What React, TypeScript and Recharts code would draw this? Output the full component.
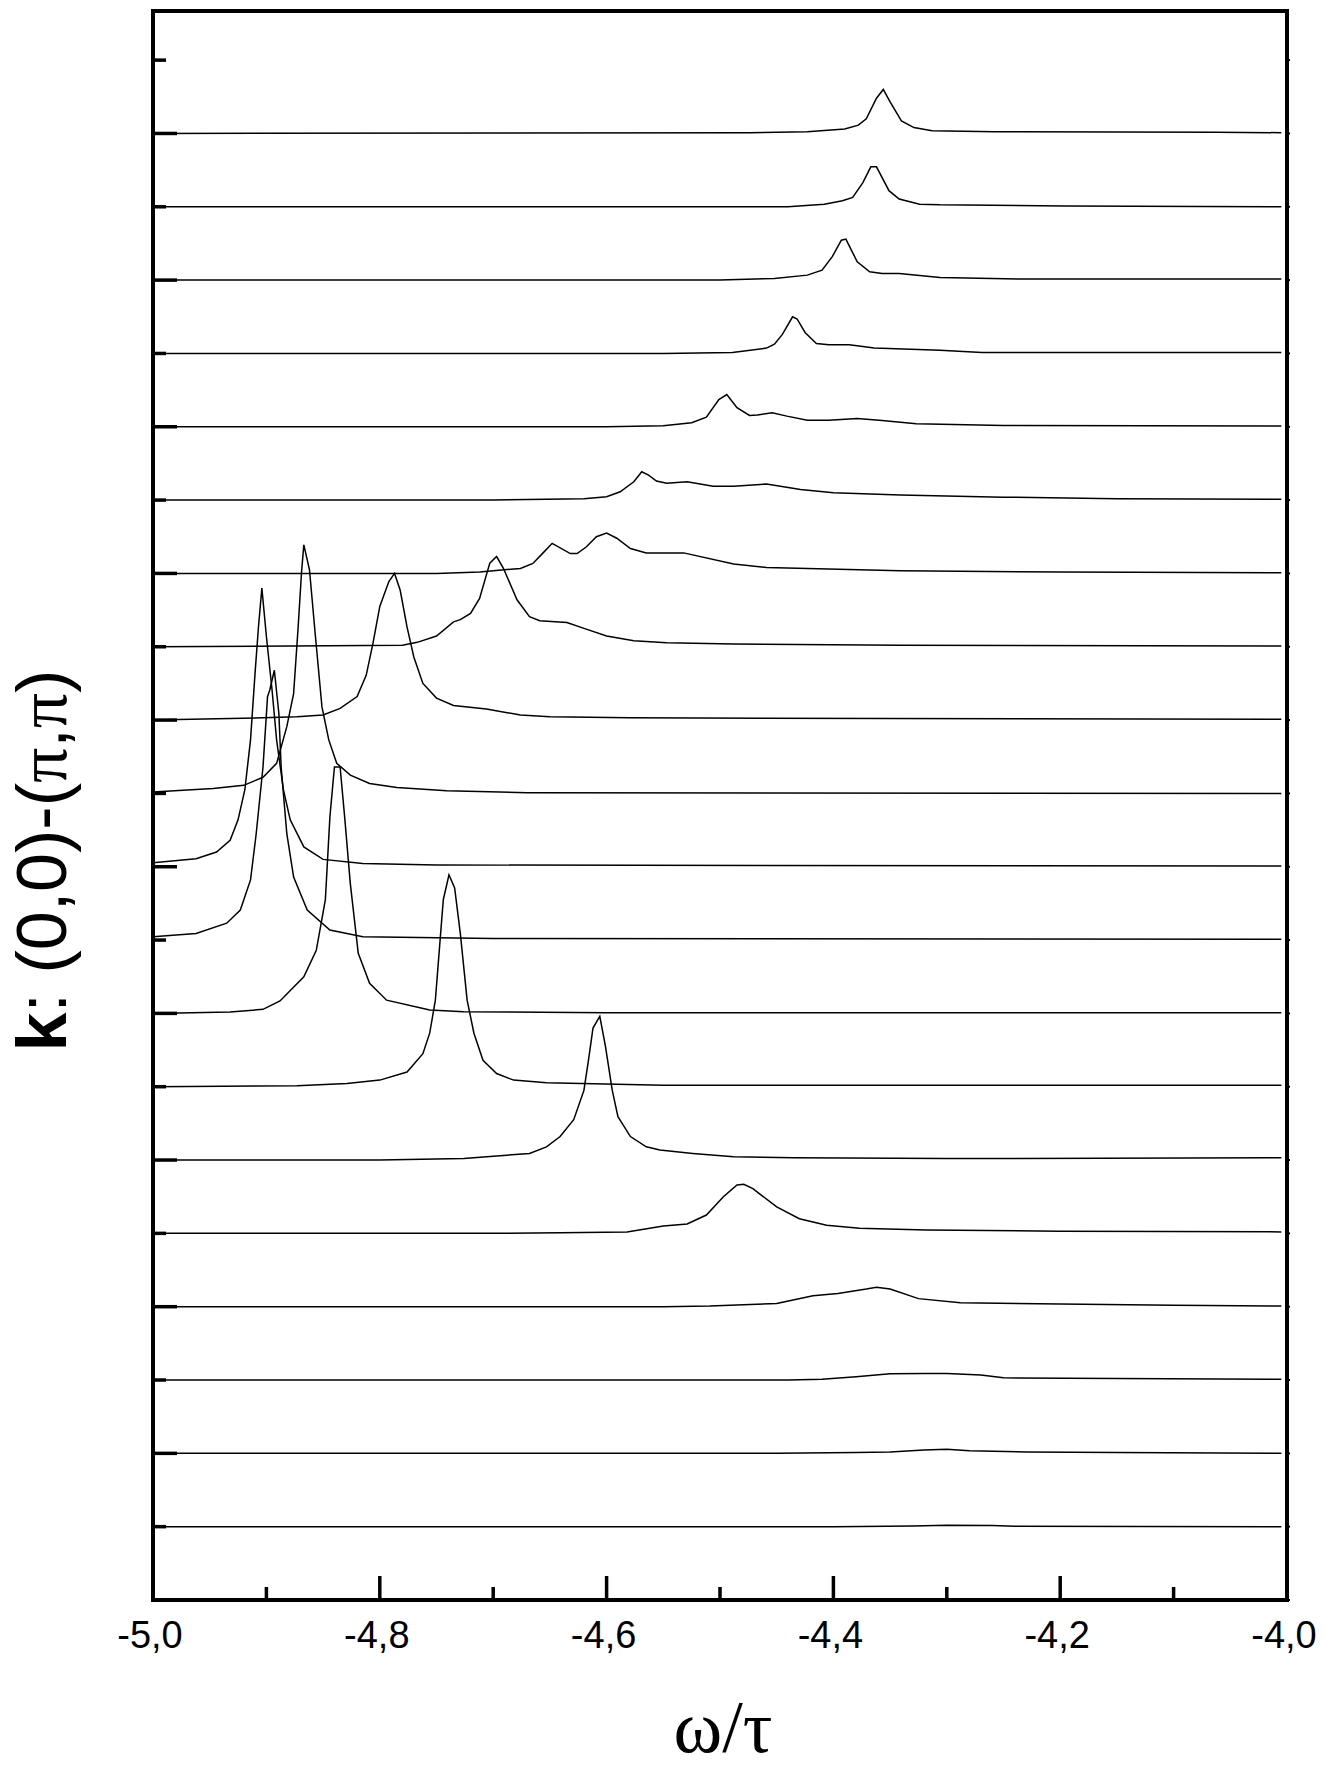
import { LineChart, Line, XAxis, YAxis, Label } from 'recharts';

// axis ranges and tick positions
const X_TICKS = [-5, -4.9, -4.8, -4.7, -4.6, -4.5, -4.4, -4.3, -4.2, -4.1, -4];
const Y_TICKS = [0, 1, 2, 3, 4, 5, 6, 7, 8, 9, 10, 11, 12, 13, 14, 15, 16, 17, 18, 19, 20, 21];
const Y_MAX = 21.67;

// spectra along (0,0)-(π,π), bottom to top: [ω/τ, intensity above the curve's offset]
const k01 = [[-5, 0], [-4.4, 0], [-4.33, 0.01], [-4.3, 0.02], [-4.26, 0.015], [-4.24, 0.005], [-4.005, 0]];
const k02 = [[-5, 0], [-4.45, 0], [-4.38, 0.01], [-4.35, 0.02], [-4.32, 0.045], [-4.3, 0.055], [-4.28, 0.036], [-4.23, 0.02], [-4.15, 0.01], [-4.005, 0]];
const k03 = [[-5, 0], [-4.44, 0], [-4.41, 0.01], [-4.38, 0.045], [-4.35, 0.085], [-4.32, 0.09], [-4.3, 0.09], [-4.27, 0.07], [-4.25, 0.03], [-4.15, 0.02], [-4.005, 0.01]];
const k04 = [[-5, 0], [-4.55, 0], [-4.509, 0.01], [-4.45, 0.045], [-4.418, 0.15], [-4.396, 0.18], [-4.371, 0.24], [-4.362, 0.265], [-4.35, 0.24], [-4.325, 0.11], [-4.288, 0.055], [-4.2, 0.036], [-4.1, 0.02], [-4.005, 0.01]];
const k05 = [[-5, 0], [-4.7, 0], [-4.641, 0.01], [-4.582, 0.02], [-4.562, 0.07], [-4.55, 0.1], [-4.529, 0.127], [-4.512, 0.25], [-4.497, 0.5], [-4.485, 0.66], [-4.479, 0.67], [-4.471, 0.61], [-4.45, 0.36], [-4.43, 0.2], [-4.406, 0.11], [-4.377, 0.07], [-4.318, 0.045], [-4.2, 0.03], [-4.005, 0.02]];
const k06 = [[-5, 0], [-4.8, 0], [-4.726, 0.02], [-4.668, 0.09], [-4.653, 0.18], [-4.641, 0.32], [-4.629, 0.55], [-4.62, 0.95], [-4.616, 1.36], [-4.612, 1.8], [-4.606, 1.96], [-4.601, 1.55], [-4.595, 0.95], [-4.59, 0.59], [-4.579, 0.32], [-4.565, 0.18], [-4.553, 0.136], [-4.524, 0.09], [-4.488, 0.045], [-4.435, 0.03], [-4.3, 0.02], [-4.005, 0.03]];
const k07 = [[-5, 0], [-4.873, 0.014], [-4.829, 0.045], [-4.8, 0.09], [-4.776, 0.2], [-4.762, 0.45], [-4.756, 0.73], [-4.751, 1.18], [-4.744, 2.55], [-4.739, 2.89], [-4.734, 2.71], [-4.729, 2.09], [-4.723, 1.18], [-4.717, 0.73], [-4.709, 0.36], [-4.697, 0.18], [-4.682, 0.09], [-4.653, 0.055], [-4.55, 0.02], [-4.005, 0.02]];
const k08 = [[-5, 0], [-4.932, 0.02], [-4.903, 0.055], [-4.888, 0.17], [-4.867, 0.5], [-4.856, 0.86], [-4.848, 1.55], [-4.844, 2.68], [-4.84, 3.36], [-4.835, 3.36], [-4.831, 2.68], [-4.826, 1.77], [-4.819, 0.82], [-4.809, 0.41], [-4.794, 0.18], [-4.756, 0.045], [-4.726, 0.023], [-4.6, 0.01], [-4.005, 0.01]];
const k09 = [[-5, 0.045], [-4.962, 0.09], [-4.935, 0.23], [-4.923, 0.41], [-4.914, 0.82], [-4.909, 1.45], [-4.903, 2.36], [-4.899, 3.32], [-4.897, 3.41], [-4.893, 3.68], [-4.889, 3.09], [-4.887, 2.36], [-4.882, 1.45], [-4.876, 0.86], [-4.864, 0.41], [-4.844, 0.136], [-4.815, 0.045], [-4.7, 0.02], [-4.005, 0.01]];
const k10 = [[-5, 0.055], [-4.962, 0.11], [-4.944, 0.2], [-4.932, 0.36], [-4.925, 0.64], [-4.919, 1.05], [-4.914, 1.73], [-4.91, 2.64], [-4.907, 3.27], [-4.904, 3.8], [-4.9, 3.14], [-4.895, 2.41], [-4.891, 1.73], [-4.885, 1.05], [-4.879, 0.64], [-4.867, 0.27], [-4.85, 0.1], [-4.815, 0.045], [-4.75, 0.023], [-4.005, 0.01]];
const k11 = [[-5, 0.02], [-4.947, 0.068], [-4.92, 0.11], [-4.903, 0.22], [-4.891, 0.41], [-4.882, 0.91], [-4.876, 1.36], [-4.872, 2.27], [-4.869, 3.02], [-4.867, 3.39], [-4.862, 3.05], [-4.857, 2.18], [-4.851, 1.18], [-4.845, 0.73], [-4.838, 0.41], [-4.826, 0.25], [-4.809, 0.136], [-4.785, 0.08], [-4.741, 0.035], [-4.67, 0.01], [-4.005, 0]];
const k12 = [[-5, 0], [-4.932, 0.02], [-4.873, 0.045], [-4.85, 0.07], [-4.835, 0.16], [-4.82, 0.32], [-4.812, 0.61], [-4.806, 1.05], [-4.8, 1.55], [-4.792, 1.89], [-4.787, 2.0], [-4.782, 1.77], [-4.776, 1.27], [-4.77, 0.86], [-4.762, 0.5], [-4.75, 0.3], [-4.735, 0.2], [-4.706, 0.15], [-4.676, 0.07], [-4.65, 0.045], [-4.58, 0.03], [-4.005, 0.01]];
const k13 = [[-5, 0], [-4.78, 0.02], [-4.767, 0.06], [-4.75, 0.146], [-4.735, 0.34], [-4.729, 0.37], [-4.72, 0.455], [-4.712, 0.66], [-4.703, 1.14], [-4.697, 1.23], [-4.691, 1.07], [-4.679, 0.64], [-4.668, 0.41], [-4.659, 0.355], [-4.635, 0.33], [-4.618, 0.24], [-4.6, 0.146], [-4.576, 0.082], [-4.547, 0.055], [-4.488, 0.036], [-4.341, 0.02], [-4.005, 0.01]];
const k14 = [[-5, 0], [-4.75, 0], [-4.712, 0.02], [-4.676, 0.068], [-4.665, 0.136], [-4.656, 0.28], [-4.648, 0.41], [-4.632, 0.27], [-4.626, 0.27], [-4.618, 0.36], [-4.609, 0.5], [-4.6, 0.55], [-4.591, 0.48], [-4.579, 0.34], [-4.565, 0.28], [-4.532, 0.28], [-4.488, 0.13], [-4.459, 0.08], [-4.341, 0.035], [-4.2, 0.02], [-4.005, 0.01]];
const k15 = [[-5, 0], [-4.7, 0], [-4.62, 0.02], [-4.6, 0.045], [-4.588, 0.114], [-4.576, 0.25], [-4.569, 0.386], [-4.563, 0.34], [-4.556, 0.26], [-4.547, 0.23], [-4.529, 0.25], [-4.506, 0.19], [-4.488, 0.19], [-4.459, 0.22], [-4.429, 0.146], [-4.4, 0.1], [-4.341, 0.07], [-4.25, 0.04], [-4.15, 0.02], [-4.005, 0.01]];
const k16 = [[-5, 0], [-4.6, 0], [-4.55, 0.015], [-4.525, 0.055], [-4.512, 0.13], [-4.501, 0.37], [-4.494, 0.44], [-4.485, 0.26], [-4.474, 0.155], [-4.467, 0.16], [-4.454, 0.19], [-4.441, 0.145], [-4.423, 0.09], [-4.404, 0.09], [-4.379, 0.114], [-4.357, 0.086], [-4.327, 0.04], [-4.25, 0.018], [-4.005, 0.01]];
const k17 = [[-5, 0], [-4.55, 0], [-4.489, 0.014], [-4.459, 0.073], [-4.452, 0.127], [-4.445, 0.26], [-4.436, 0.5], [-4.432, 0.47], [-4.425, 0.286], [-4.415, 0.136], [-4.404, 0.118], [-4.386, 0.118], [-4.364, 0.073], [-4.306, 0.045], [-4.269, 0.014], [-4.005, 0.014]];
const k18 = [[-5, 0], [-4.5, 0], [-4.452, 0.023], [-4.423, 0.068], [-4.41, 0.136], [-4.401, 0.32], [-4.393, 0.545], [-4.389, 0.56], [-4.379, 0.25], [-4.368, 0.114], [-4.357, 0.09], [-4.342, 0.09], [-4.306, 0.036], [-4.232, 0.014], [-4.005, 0.014]];
const k19 = [[-5, 0], [-4.44, 0], [-4.408, 0.036], [-4.392, 0.082], [-4.383, 0.127], [-4.374, 0.33], [-4.367, 0.545], [-4.362, 0.545], [-4.351, 0.22], [-4.342, 0.105], [-4.324, 0.036], [-4.306, 0.027], [-4.196, 0.01], [-4.005, 0]];
const k20 = [[-5, 0], [-4.474, 0.01], [-4.423, 0.023], [-4.39, 0.06], [-4.378, 0.114], [-4.371, 0.2], [-4.362, 0.48], [-4.356, 0.6], [-4.35, 0.43], [-4.34, 0.17], [-4.329, 0.08], [-4.313, 0.036], [-4.258, 0.023], [-4.063, 0.018], [-4.005, 0.01]];

const SPECTRA = [k01, k02, k03, k04, k05, k06, k07, k08, k09, k10, k11, k12, k13, k14, k15, k16, k17, k18, k19, k20];

const SANS = "'Liberation Sans', Arial, sans-serif";
const SERIF = "'Liberation Serif', 'Times New Roman', serif";
const TICK_W = 3.5;

const isMajorX = (v: number) => Math.round(v * 10) % 2 === 0;

function BottomTick({ x, y, payload }: any) {
  const major = isMajorX(payload.value);
  return (
    <g>
      <line x1={x} x2={x} y1={y} y2={y - (major ? 24 : 13)} stroke="#000" strokeWidth={TICK_W} />
      {major && (
        <text x={x - 3} y={y + 48} textAnchor="middle" fontSize={38} fontFamily={SANS} fill="#000">
          {payload.value.toFixed(1).replace('.', ',')}
        </text>
      )}
    </g>
  );
}

function TopTick({ x, y, payload }: any) {
  const major = isMajorX(payload.value);
  return <line x1={x} x2={x} y1={y} y2={y + (major ? 24 : 13)} stroke="#000" strokeWidth={TICK_W} />;
}

function LeftTick({ x, y, payload }: any) {
  const major = payload.value % 2 === 0;
  return <line x1={x} x2={x + (major ? 24 : 13)} y1={y} y2={y} stroke="#000" strokeWidth={TICK_W} />;
}

function RightTick({ x, y }: any) {
  return <line x1={x} x2={x + 3} y1={y} y2={y} stroke="#000" strokeWidth={2} />;
}

const frame = { stroke: '#000', strokeWidth: 4, strokeLinecap: 'square' as const };

export default function App() {
  // the chart covers the whole page, body margin included
  return (
    <div style={{ width: 1333, height: 1771, margin: -8, background: '#fff' }}>
      <LineChart width={1333} height={1771} margin={{ top: 10, right: 45, bottom: 0, left: 152 }}>
        <XAxis
          dataKey="w"
          type="number"
          domain={[-5, -4]}
          allowDataOverflow
          ticks={X_TICKS}
          interval={0}
          tickSize={0}
          tickMargin={0}
          height={171}
          axisLine={frame}
          tick={(p: any) => <BottomTick {...p} />}
        >
          <Label
            content={({ viewBox }: any) => (
              <text
                x={viewBox.x + viewBox.width / 2 + 3}
                y={viewBox.y + 152}
                textAnchor="middle"
                fontSize={74}
                fontFamily={SERIF}
                fill="#000"
              >
                ω/τ
              </text>
            )}
          />
        </XAxis>
        <XAxis
          xAxisId="top"
          orientation="top"
          type="number"
          domain={[-5, -4]}
          allowDataOverflow
          ticks={X_TICKS}
          interval={0}
          tickSize={0}
          tickMargin={0}
          height={1}
          axisLine={frame}
          tick={(p: any) => <TopTick {...p} />}
        />
        <YAxis
          type="number"
          domain={[0, Y_MAX]}
          allowDataOverflow
          ticks={Y_TICKS}
          interval={0}
          tickSize={0}
          tickMargin={0}
          width={1}
          axisLine={frame}
          tick={(p: any) => <LeftTick {...p} />}
        >
          <Label
            content={({ viewBox }: any) => (
              <text
                transform={`translate(${viewBox.x + viewBox.width - 87}, ${viewBox.y + viewBox.height / 2 + 55}) rotate(-90)`}
                textAnchor="middle"
                fontSize={70}
                fontFamily={SANS}
                fill="#000"
              >
                <tspan fontWeight="bold">k</tspan>
                <tspan>: (0,0)-(</tspan>
                <tspan fontFamily={SERIF}>π</tspan>
                <tspan>,</tspan>
                <tspan fontFamily={SERIF}>π</tspan>
                <tspan>)</tspan>
              </text>
            )}
          />
        </YAxis>
        <YAxis
          yAxisId="right"
          orientation="right"
          type="number"
          domain={[0, Y_MAX]}
          allowDataOverflow
          ticks={Y_TICKS}
          interval={0}
          tickSize={0}
          tickMargin={0}
          width={1}
          axisLine={frame}
          tick={(p: any) => <RightTick {...p} />}
        />
        {SPECTRA.map((curve, i) => (
          <Line
            key={i}
            data={curve.map(([w, a]) => ({ w, a: i + 1 + a }))}
            dataKey="a"
            type="linear"
            stroke="#000"
            strokeWidth={1.5}
            dot={false}
            activeDot={false}
            isAnimationActive={false}
          />
        ))}
      </LineChart>
    </div>
  );
}
